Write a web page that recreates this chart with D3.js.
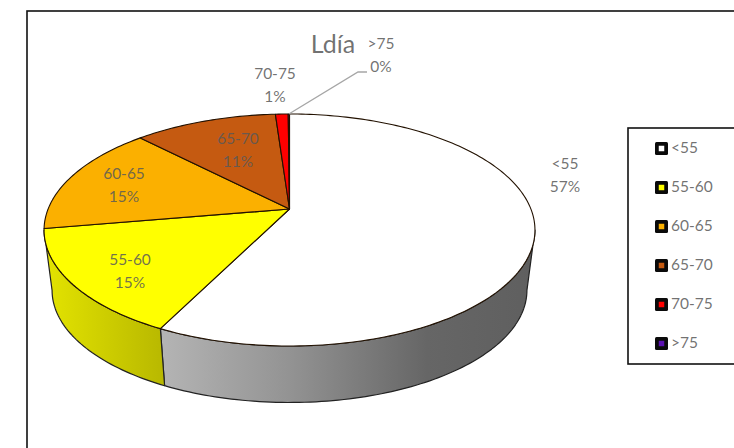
<!DOCTYPE html>
<html>
<head>
<meta charset="utf-8">
<script src="https://cdn.jsdelivr.net/npm/d3@7"></script>
<style>
  html, body { margin: 0; padding: 0; background: #fff; }
  svg { display: block; }
  text { font-family: Lato, "Open Sans", sans-serif; fill: #595959; fill-opacity: 0.85; }
</style>
</head>
<body>
<svg id="chart" width="734" height="448"></svg>
<script>
const title = 'Ldía';
const categories = ['<55', '55-60', '60-65', '65-70', '70-75', '>75'];
const values = [57.4, 14.9, 15.4, 11.2, 1.0, 0.1];
const colors = ['#ffffff', '#ffff00', '#fbb000', '#c55a11', '#ff0000', '#5a10b0'];

const svg = d3.select('#chart');

// outer frame and legend frame run off the right edge of the picture
svg.append('rect').attr('x', 27).attr('y', 11).attr('width', 760).attr('height', 480)
  .attr('fill', '#fff').attr('stroke', '#111').attr('stroke-width', 1.6);

// the pie is a tilted disc, so a unit circle goes through a small perspective divide
const tilt = 0.181;
const xTop = d3.scaleLinear().domain([-1, 1]).range([289.5 - 241.4, 289.5 + 241.4]);
const yTop = d3.scaleLinear().domain([-1, 1]).range([209 + 112.2, 209 - 112.2]);
const xBottom = d3.scaleLinear().domain([-1, 1]).range([289.5 - 233.5, 289.5 + 233.5]);
const yBottom = d3.scaleLinear().domain([-1, 1]).range([270 + 108.5, 270 - 108.5]);

const project = (a, xs, ys) => {
  const u = Math.sin(a), v = Math.cos(a), w = 1 + tilt * v;
  return [xs(u / w), ys(v / w)];
};
const rimAngles = (a0, a1) => {
  const n = Math.max(2, Math.ceil((a1 - a0) / 0.02));
  return d3.range(n + 1).map(i => a0 + (a1 - a0) * i / n);
};

const pie = d3.pie().sort(null).value(d => d);
const slices = pie(values);
const line = d3.line();

// wall is only seen between the two silhouette points
const wallFrom = Math.PI - Math.acos(tilt);
const wallTo = Math.PI + Math.acos(tilt);

const defs = svg.append('defs');
const wallGradient = (id, stops) => {
  const g = defs.append('linearGradient').attr('id', id)
    .attr('gradientUnits', 'userSpaceOnUse')
    .attr('x1', 44).attr('x2', 535).attr('y1', 0).attr('y2', 0);
  stops.forEach(s => g.append('stop').attr('offset', s[0]).attr('stop-color', s[1]));
};
wallGradient('wall0', [[0.24, '#b4b4b4'], [0.5, '#939393'], [0.78, '#666666'], [1, '#5f5f5f']]);
wallGradient('wall1', [[0, '#e4e400'], [0.24, '#b9b900']]);

const walls = svg.append('g');
slices.forEach((d, i) => {
  const a0 = Math.max(d.startAngle, wallFrom);
  const a1 = Math.min(d.endAngle, wallTo);
  if (a1 <= a0) return;
  const angles = rimAngles(a0, a1);
  const pts = angles.map(a => project(a, xTop, yTop))
    .concat(angles.slice().reverse().map(a => project(a, xBottom, yBottom)));
  walls.append('path')
    .attr('d', line(pts) + 'Z')
    .attr('fill', i < 2 ? `url(#wall${i})` : colors[i])
    .attr('stroke', '#222')
    .attr('stroke-width', 1.2)
    .attr('stroke-linejoin', 'round');
});

const tops = svg.append('g');
slices.forEach((d, i) => {
  const pts = [[xTop(0), yTop(0)]]
    .concat(rimAngles(d.startAngle, d.endAngle).map(a => project(a, xTop, yTop)));
  tops.append('path')
    .attr('d', line(pts) + 'Z')
    .attr('fill', colors[i])
    .attr('stroke', '#221100')
    .attr('stroke-width', 1.1)
    .attr('stroke-linejoin', 'round');
});

// leader line for the >75 label
const last = slices[slices.length - 1];
const leaderStart = project((last.startAngle + last.endAngle) / 2, xTop, yTop);
svg.append('path')
  .attr('d', line([leaderStart, [358, 72], [367, 72]]))
  .attr('fill', 'none')
  .attr('stroke', '#a6a6a6')
  .attr('stroke-width', 1.3);

// data labels: category on the first line, rounded share on the second
const labelX = [565, 130, 124, 238, 275, 381];
const labelY = [164, 260, 174, 139, 74, 44];
const labels = svg.append('g').attr('font-size', 15.5).attr('text-anchor', 'middle');
slices.forEach((d, i) => {
  labels.append('text').attr('x', labelX[i]).attr('y', labelY[i])
    .attr('dy', '0.35em').text(categories[i]);
  labels.append('text').attr('x', labelX[i]).attr('y', labelY[i] + 23)
    .attr('dy', '0.35em').text(Math.round(d.data) + '%');
});

svg.append('text').attr('x', 333).attr('y', 44).attr('dy', '0.35em')
  .attr('text-anchor', 'middle').attr('font-size', 25).text(title);

// legend
svg.append('rect').attr('x', 628).attr('y', 128).attr('width', 140).attr('height', 236)
  .attr('fill', '#fff').attr('stroke', '#111').attr('stroke-width', 1.6);
const legendY = d3.scalePoint().domain(categories).range([148, 343]);
const legend = svg.append('g').selectAll('g').data(categories).enter().append('g')
  .attr('transform', d => `translate(655,${legendY(d)})`);
legend.append('rect').attr('x', 0).attr('y', -6).attr('width', 13).attr('height', 13)
  .attr('rx', 1.5).attr('fill', '#0a0a0a');
legend.append('rect').attr('x', 3.75).attr('y', -2.25).attr('width', 5.5).attr('height', 5.5)
  .attr('fill', (d, i) => colors[i]);
legend.append('text').attr('x', 16).attr('y', 0).attr('dy', '0.35em')
  .attr('font-size', 15.5).text(d => d);
</script>
</body>
</html>
